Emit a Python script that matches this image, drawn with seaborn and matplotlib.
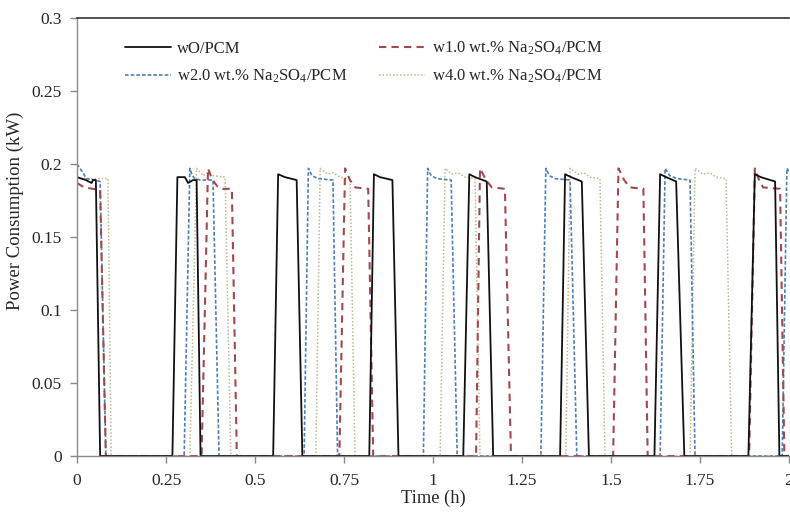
import matplotlib
matplotlib.use("Agg")
import matplotlib.pyplot as plt
from matplotlib.ticker import FuncFormatter
import seaborn as sns

# power consumption, time in hours, power in kW
black_t = [0, 0.025, 0.041, 0.045, 0.053, 0.065,
           0.268, 0.282, 0.303, 0.312, 0.326, 0.336, 0.347,
           0.551, 0.565, 0.584, 0.617, 0.633,
           0.821, 0.834, 0.851, 0.886, 0.903,
           1.085, 1.102, 1.118, 1.151, 1.169,
           1.357, 1.371, 1.388, 1.418, 1.438,
           1.622, 1.638, 1.655, 1.683, 1.706,
           1.886, 1.904, 1.921, 1.961, 1.973, 2.0]
black_p = [0.191, 0.189, 0.187, 0.189, 0.189, 0,
           0, 0.191, 0.191, 0.187, 0.189, 0.189, 0,
           0, 0.193, 0.191, 0.189, 0,
           0, 0.193, 0.191, 0.189, 0,
           0, 0.193, 0.191, 0.188, 0,
           0, 0.193, 0.191, 0.188, 0,
           0, 0.193, 0.191, 0.188, 0,
           0, 0.193, 0.191, 0.188, 0, 0]

red_t = [0, 0.020, 0.045, 0.065, 0.081,
         0.350, 0.368, 0.379, 0.393, 0.407, 0.435, 0.449,
         0.737, 0.753, 0.767, 0.781, 0.818, 0.832,
         1.121, 1.132, 1.149, 1.165, 1.202, 1.219,
         1.506, 1.521, 1.537, 1.553, 1.591, 1.603,
         1.888, 1.904, 1.916, 1.927, 1.975, 1.987, 2.0]
red_p = [0.187, 0.184, 0.183, 0.182, 0,
         0, 0.197, 0.190, 0.185, 0.183, 0.183, 0,
         0, 0.197, 0.189, 0.184, 0.183, 0,
         0, 0.197, 0.189, 0.184, 0.183, 0,
         0, 0.197, 0.189, 0.184, 0.183, 0,
         0, 0.197, 0.189, 0.184, 0.183, 0, 0]

blue_t = [0, 0.014, 0.027, 0.051, 0.065, 0.081,
          0.301, 0.317, 0.324, 0.331, 0.346, 0.382, 0.399,
          0.638, 0.650, 0.660, 0.677, 0.719, 0.732,
          0.973, 0.985, 0.995, 1.011, 1.051, 1.068,
          1.303, 1.317, 1.327, 1.343, 1.385, 1.404,
          1.638, 1.652, 1.665, 1.685, 1.722, 1.736,
          1.981, 1.994, 2.0]
blue_p = [0.200, 0.195, 0.190, 0.189, 0.188, 0,
          0, 0.197, 0.192, 0.190, 0.189, 0.189, 0,
          0, 0.197, 0.192, 0.190, 0.189, 0,
          0, 0.197, 0.192, 0.190, 0.189, 0,
          0, 0.197, 0.192, 0.190, 0.189, 0,
          0, 0.197, 0.192, 0.190, 0.189, 0,
          0, 0.197, 0.195]

olive_t = [0, 0.087, 0.096,
           0.317, 0.336, 0.354, 0.368, 0.382, 0.416, 0.432,
           0.671, 0.683, 0.705, 0.719, 0.739, 0.767, 0.781,
           1.020, 1.034, 1.053, 1.070, 1.090, 1.118, 1.132,
           1.373, 1.385, 1.407, 1.424, 1.441, 1.469, 1.483,
           1.722, 1.736, 1.758, 1.778, 1.795, 1.823, 1.839, 2.0]
olive_p = [0.190, 0.190, 0,
           0, 0.197, 0.192, 0.194, 0.192, 0.191, 0,
           0, 0.197, 0.193, 0.194, 0.191, 0.190, 0,
           0, 0.197, 0.193, 0.194, 0.191, 0.190, 0,
           0, 0.197, 0.193, 0.194, 0.191, 0.190, 0,
           0, 0.197, 0.193, 0.194, 0.191, 0.190, 0, 0]

labels = ["wO/PCM",
          "w1.0 wt.% Na$_2$SO$_4$/PCM",
          "w2.0 wt.% Na$_2$SO$_4$/PCM",
          "w4.0 wt.% Na$_2$SO$_4$/PCM"]

sns.set_style("white")
plt.rcParams['font.family'] = ['Liberation Serif', 'DejaVu Serif']
plt.rcParams['mathtext.fontset'] = 'custom'
plt.rcParams['mathtext.rm'] = 'Liberation Serif'
plt.rcParams['mathtext.it'] = 'Liberation Serif:italic'

fig = plt.figure(figsize=(7.9, 5.12), dpi=100)
ax = fig.add_axes([77 / 790, 56 / 512, 712 / 790, 438 / 512])

# drawing order: coloured ones first, black on top
sns.lineplot(x=olive_t, y=olive_p, ax=ax, color="#bdb88a", lw=1.1,
             linestyle=(0, (1, 1.3)), sort=False, estimator=None, label=labels[3])
sns.lineplot(x=blue_t, y=blue_p, ax=ax, color="#4f7fb2", lw=1.2,
             linestyle=(0, (2.2, 1.2)), sort=False, estimator=None, label=labels[2])
sns.lineplot(x=red_t, y=red_p, ax=ax, color="#9e4a50", lw=1.5,
             linestyle=(0, (3.5, 2.5)), sort=False, estimator=None, label=labels[1])
sns.lineplot(x=black_t, y=black_p, ax=ax, color="#111111", lw=1.3,
             sort=False, estimator=None, label=labels[0])

ax.set_xlim(0, 2)
ax.set_ylim(0, 0.3)
ax.set_xticks([0, 0.25, 0.5, 0.75, 1, 1.25, 1.5, 1.75, 2])
ax.set_yticks([0, 0.05, 0.1, 0.15, 0.2, 0.25, 0.3])
fmt = FuncFormatter(lambda v, p: "{:g}".format(round(v, 2)))
ax.xaxis.set_major_formatter(fmt)
ax.yaxis.set_major_formatter(fmt)
ax.tick_params(axis='both', which='major', labelsize=12.5, length=5,
               width=1, color="#888888", direction='out', pad=6)
ax.tick_params(axis='x', bottom=True, pad=7)
ax.tick_params(axis='y', left=True)

for side in ['left', 'bottom']:
    ax.spines[side].set_color("#8c8c8c")
    ax.spines[side].set_linewidth(1.0)
ax.spines['top'].set_color("#333333")
ax.spines['top'].set_linewidth(1.2)
ax.spines['right'].set_visible(False)

ax.set_xlabel("Time (h)", fontsize=13.3, labelpad=1)
ax.set_ylabel("Power Consumption (kW)", fontsize=13.5)
ax.yaxis.set_label_coords(-0.075, 0.56)

handles, labs = ax.get_legend_handles_labels()
order = [labs.index(labels[i]) for i in [0, 2, 1, 3]]
ax.legend([handles[i] for i in order], [labs[i] for i in order],
          ncol=2, frameon=False, loc='upper left', bbox_to_anchor=(0.046, 0.985),
          fontsize=12, handlelength=2.75, handletextpad=0.4,
          columnspacing=1.9, labelspacing=0.65)

fig.savefig("out.png", dpi=100)
